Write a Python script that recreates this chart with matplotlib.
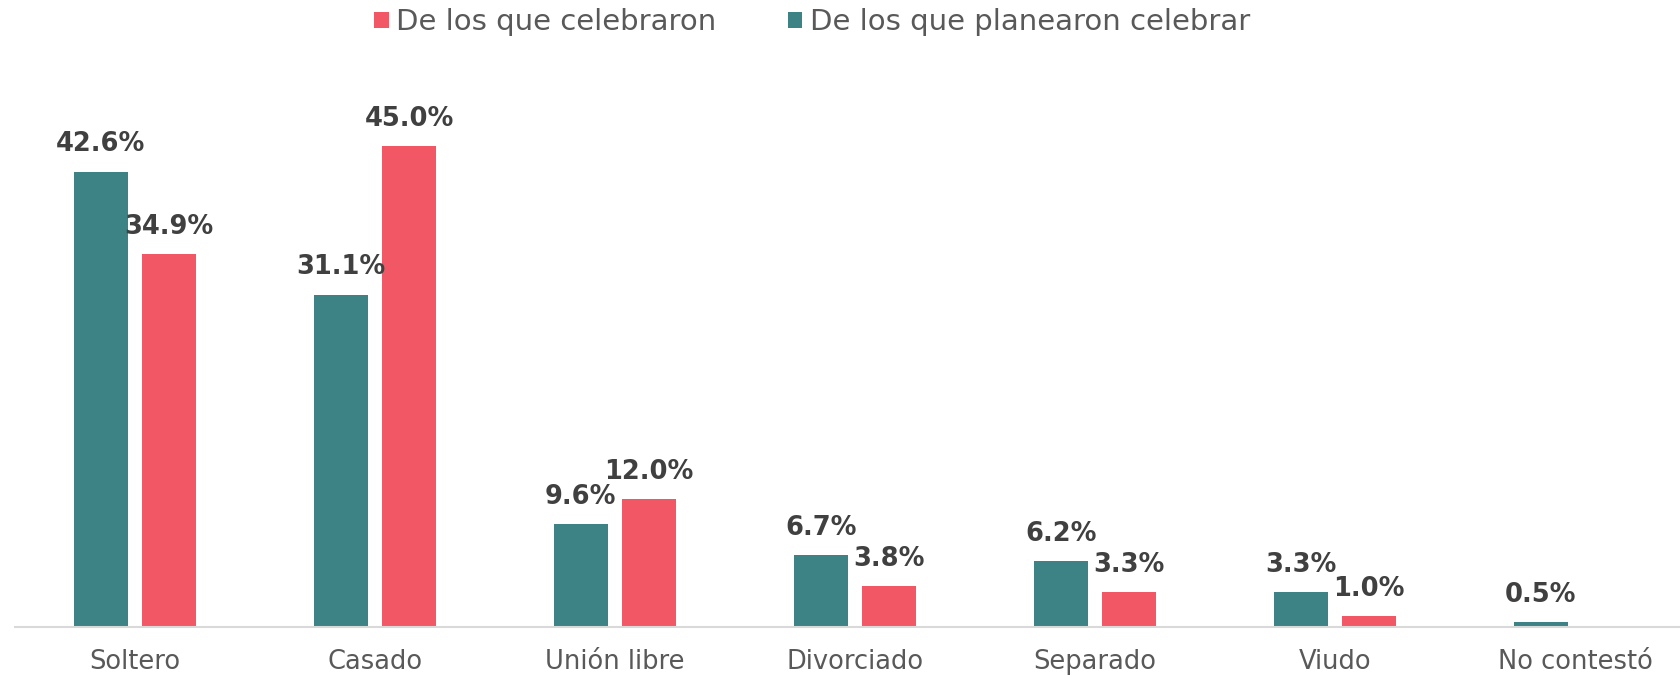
import matplotlib
matplotlib.use("Agg")
import matplotlib.pyplot as plt
import numpy as np

categories = ["Soltero", "Casado", "Unión libre", "Divorciado", "Separado", "Viudo", "No contestó"]
planearon = [42.6, 31.1, 9.6, 6.7, 6.2, 3.3, 0.5]
celebraron = [34.9, 45.0, 12.0, 3.8, 3.3, 1.0, 0.0]
labels_planearon = ["42.6%", "31.1%", "9.6%", "6.7%", "6.2%", "3.3%", "0.5%"]
labels_celebraron = ["34.9%", "45.0%", "12.0%", "3.8%", "3.3%", "1.0%", ""]

TEAL = "#3D8284"
PINK = "#F25765"
TXT = "#404040"

plt.rcParams['font.family'] = ['DejaVu Sans']

W, H = 1681, 676
fig = plt.figure(figsize=(W / 100, H / 100), dpi=100)
ax = fig.add_axes([15 / W, (H - 627) / H, 1 - 15 / W, 627 / H])

x = np.arange(len(categories))
bw = 0.225
off = 0.1427
b1 = ax.bar(x - off, planearon, bw, color=TEAL, label="De los que planearon celebrar", zorder=3)
b2 = ax.bar(x + off, celebraron, bw, color=PINK, label="De los que celebraron", zorder=3)

for bars, labs in ((b1, labels_planearon), (b2, labels_celebraron)):
    for rect, lab in zip(bars, labs):
        if lab:
            ax.annotate(lab, (rect.get_x() + rect.get_width() / 2, rect.get_height()),
                        xytext=(0, 14.5), textcoords="offset points", ha="center", va="baseline",
                        fontsize=18.5, fontweight="bold", color=TXT)

# x limits: axis starts at px 15, category 0 at px 135, spacing 240 px
left = (15 - 135) / 240
right = (W - 135) / 240
ax.set_xlim(left, right)
ax.set_ylim(0, 627 / 10.69)

ax.set_xticks(x)
ax.set_xticklabels(categories, fontsize=18.5, color="#595959")
ax.tick_params(axis="x", length=0, pad=15.5)
ax.set_yticks([])
for s in ["top", "right", "left"]:
    ax.spines[s].set_visible(False)
ax.spines["bottom"].set_color("#D9D9D9")
ax.spines["bottom"].set_linewidth(1.5)
ax.spines["bottom"].set_zorder(4)

handles = [b2, b1]
leg = fig.legend(handles, [h.get_label() for h in handles], loc="center",
                 bbox_to_anchor=(812 / W, 1 - 22.5 / H), ncol=2, frameon=False,
                 fontsize=21, handlelength=0.5, handleheight=0.5, handletextpad=0.25,
                 columnspacing=2.45, labelcolor="#595959", borderpad=0, borderaxespad=0)

fig.savefig("out.png", dpi=100)
